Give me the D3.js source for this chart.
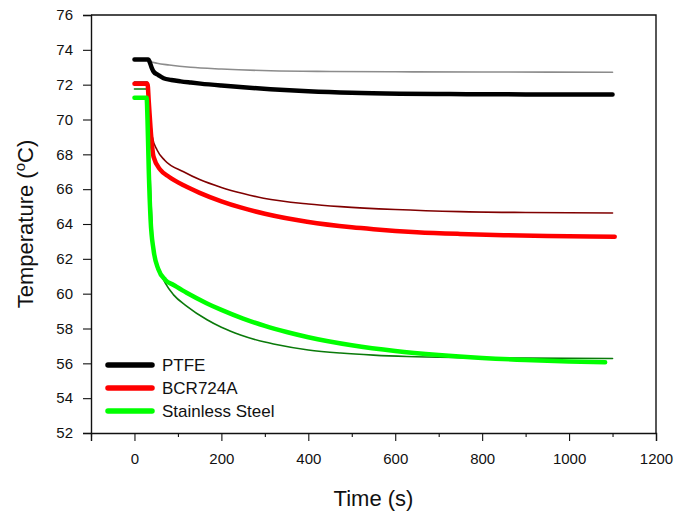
<!DOCTYPE html>
<html>
<head>
<meta charset="utf-8">
<script src="https://cdn.jsdelivr.net/npm/d3@7"></script>
<style>
  body { margin: 0; background: #fff; }
  svg { font-family: "Liberation Sans", Arial, sans-serif; }
</style>
</head>
<body>
<script>
const ptfeTime = [0, 32, 35, 40, 44, 55, 67, 85, 106, 130, 152, 200, 250, 313, 400, 500, 611, 726, 800, 900, 1000, 1100];
const ptfeTemp = [73.45, 73.45, 73.3, 72.95, 72.75, 72.55, 72.37, 72.27, 72.19, 72.12, 72.06, 71.95, 71.85, 71.74, 71.62, 71.53, 71.48, 71.46, 71.45, 71.44, 71.44, 71.44];

const ptfeSimTime = [0, 32, 37, 52, 80, 129, 200, 313, 450, 600, 800, 1100];
const ptfeSimTemp = [73.42, 73.42, 73.33, 73.23, 73.13, 73.0, 72.9, 72.8, 72.76, 72.74, 72.73, 72.71];

const bcrTime = [0, 30, 33, 37, 44, 60, 80, 113, 150, 200, 244, 300, 397, 500, 550, 650, 749, 850, 950, 1105];
const bcrTemp = [72.05, 72.05, 71.0, 69.5, 67.85, 67.1, 66.7, 66.22, 65.79, 65.3, 64.95, 64.59, 64.13, 63.81, 63.7, 63.53, 63.43, 63.36, 63.31, 63.27];

const bcrSimTime = [0, 30, 33, 37, 41, 52, 70, 113, 150, 200, 250, 297, 400, 474, 600, 749, 900, 1100];
const bcrSimTemp = [72.15, 72.15, 71.2, 70.0, 69.0, 68.25, 67.65, 67.0, 66.55, 66.1, 65.75, 65.48, 65.15, 65.0, 64.83, 64.71, 64.66, 64.63];

const ssTime = [0, 28, 30, 33, 37, 44, 55, 71, 90, 120, 167, 200, 250, 300, 350, 400, 500, 600, 700, 800, 900, 1000, 1083];
const ssTemp = [71.25, 71.25, 70.0, 67.0, 64.3, 62.5, 61.4, 60.79, 60.5, 60.05, 59.44, 59.07, 58.57, 58.15, 57.8, 57.5, 57.04, 56.71, 56.48, 56.31, 56.19, 56.11, 56.06];

const ssSimTime = [0, 30, 33, 37, 44, 55, 71, 90, 120, 167, 200, 244, 300, 320, 400, 474, 550, 627, 750, 900, 1100];
const ssSimTemp = [71.75, 71.75, 69.0, 66.0, 62.5, 61.5, 60.6, 59.93, 59.29, 58.5, 58.07, 57.63, 57.22, 57.11, 56.77, 56.59, 56.47, 56.39, 56.33, 56.3, 56.28];

const legendNames = ["PTFE", "BCR724A", "Stainless Steel"];
const legendColors = ["#000000", "#ff0000", "#00ff00"];

const xTicks = [0, 200, 400, 600, 800, 1000, 1200];
const xMinorTicks = [-100, 100, 300, 500, 700, 900, 1100];
const yTicks = [52, 54, 56, 58, 60, 62, 64, 66, 68, 70, 72, 74, 76];

const width = 680, height = 519;
const margin = {left: 91, right: 24, top: 15, bottom: 86};

const svg = d3.select("body").append("svg")
    .attr("width", width)
    .attr("height", height);

const x = d3.scaleLinear().domain([-100, 1200]).range([margin.left, width - margin.right]);
const y = d3.scaleLinear().domain([52, 76]).range([height - margin.bottom, margin.top]);

// curves: simulated lines first so measured ones sit on top where they overlap
const series = [
  {t: ptfeSimTime, v: ptfeSimTemp, color: "#8c8c8c", w: 1.6},
  {t: bcrSimTime, v: bcrSimTemp, color: "#800000", w: 1.6},
  {t: ssSimTime, v: ssSimTemp, color: "#0a7a0a", w: 1.6},
  {t: ptfeTime, v: ptfeTemp, color: "#000000", w: 4.5},
  {t: bcrTime, v: bcrTemp, color: "#ff0000", w: 4.5},
  {t: ssTime, v: ssTemp, color: "#00ff00", w: 4.5}
];

const line = d3.line()
    .x(d => x(d[0]))
    .y(d => y(d[1]))
    .curve(d3.curveMonotoneX);

svg.append("g").selectAll("path")
    .data(series)
    .enter().append("path")
    .attr("d", s => line(s.t.map((t, i) => [t, s.v[i]])))
    .attr("fill", "none")
    .attr("stroke", s => s.color)
    .attr("stroke-width", s => s.w)
    .attr("stroke-linecap", "round")
    .attr("stroke-linejoin", "round");

// axes
svg.append("g")
    .attr("transform", `translate(${margin.left},0)`)
    .call(d3.axisLeft(y).tickValues(yTicks).tickSize(8).tickPadding(10));

svg.append("g")
    .attr("transform", `translate(0,${height - margin.bottom})`)
    .call(d3.axisBottom(x).tickValues(xTicks).tickSize(8).tickPadding(12).tickFormat(d3.format("d")));

svg.append("g")
    .attr("transform", `translate(0,${height - margin.bottom})`)
    .call(d3.axisBottom(x).tickValues(xMinorTicks).tickSize(4).tickFormat(""))
    .call(g => g.select(".domain").remove());

svg.selectAll(".tick text")
    .attr("font-size", 15)
    .attr("font-family", "Liberation Sans, Arial, sans-serif")
    .attr("fill", "#111");
svg.selectAll(".tick line").attr("stroke", "#111").attr("stroke-width", 1.1);
svg.selectAll(".domain").attr("stroke", "#111").attr("stroke-width", 1.4);

// frame top & right
svg.append("path")
    .attr("d", `M${x(-100)},${y(76)}H${x(1200)}V${y(52)}`)
    .attr("fill", "none")
    .attr("stroke", "#111")
    .attr("stroke-width", 1.4);

// axis titles
svg.append("text")
    .attr("x", (x(-100) + x(1200)) / 2)
    .attr("y", 506)
    .attr("text-anchor", "middle")
    .attr("font-size", 22)
    .attr("fill", "#111")
    .text("Time (s)");

const yt = svg.append("text")
    .attr("transform", `translate(33,${(y(52) + y(76)) / 2}) rotate(-90)`)
    .attr("text-anchor", "middle")
    .attr("font-size", 22)
    .attr("fill", "#111");
yt.append("tspan").text("Temperature (");
yt.append("tspan").attr("font-size", 15).attr("dy", -8).text("o");
yt.append("tspan").attr("dy", 8).text("C)");

// legend
const legend = svg.append("g").attr("transform", "translate(108,365)")
  .selectAll("g")
  .data(legendNames)
  .enter().append("g")
  .attr("transform", (d, i) => `translate(0,${i * 23})`);

legend.append("line")
    .attr("x1", 0).attr("x2", 44)
    .attr("stroke", (d, i) => legendColors[i])
    .attr("stroke-width", 5.5)
    .attr("stroke-linecap", "round");

legend.append("text")
    .attr("x", 54)
    .attr("dy", 6)
    .attr("font-size", 17)
    .attr("fill", "#111")
    .text(d => d);
</script>
</body>
</html>
